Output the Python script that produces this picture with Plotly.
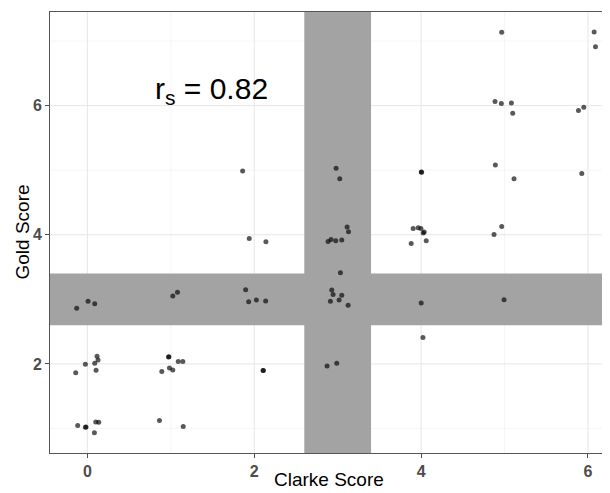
import plotly.graph_objects as go

# Jittered Clarke (x) and Gold (y) scores
clarke = [-0.128, 0.008, 0.088,
          0.116, 0.128, 0.088, -0.024, -0.14, 0.104,
          -0.116, -0.024, -0.016, 0.10, 0.136, 0.084,
          1.024, 1.08,
          0.972, 0.978, 1.089, 1.144, 0.892, 0.984, 1.024,
          0.864, 1.149,
          1.897, 1.933, 2.025, 2.137,
          2.105, 2.110,
          1.861, 1.94, 2.14,
          2.981, 3.025, 3.113, 3.13, 2.885, 2.921, 2.977, 3.049,
          3.033, 2.929, 2.945, 3.049, 2.913, 3.017, 3.125,
          2.873, 2.989,
          4.006, 4.002, 3.905, 3.965, 3.998, 4.037, 4.025, 4.061, 3.881,
          4.001, 4.022,
          4.966, 4.886, 4.962, 5.082, 5.098, 4.89, 5.114, 4.966, 4.874, 4.994,
          6.074, 6.09, 5.886, 5.95, 5.926]
gold = [2.86, 2.97, 2.93,
        2.118, 2.062, 2.009, 1.994, 1.861, 1.901,
        1.045, 1.019, 1.022, 1.102, 1.096, 0.932,
        3.053, 3.108,
        2.108, 2.111, 2.036, 2.036, 1.881, 1.938, 1.907,
        1.122, 1.029,
        3.150, 2.964, 2.991, 2.975,
        1.896, 1.899,
        4.989, 3.943, 3.89,
        5.03, 4.866, 4.119, 4.046, 3.896, 3.927, 3.907, 3.918,
        3.413, 3.146, 3.073, 3.062, 2.969, 2.991, 2.907,
        1.969, 2.009,
        4.968, 4.972, 4.098, 4.108, 4.098, 4.042, 4.026, 3.907, 3.865,
        2.944, 2.407,
        7.135, 6.062, 6.031, 6.042, 5.881, 5.082, 4.866, 4.129, 4.005, 2.995,
        7.141, 6.913, 5.923, 5.974, 4.947]

x_ticks = [0, 2, 4, 6]
y_ticks = [2, 4, 6]
x_minor = [1, 3, 5]
y_minor = [1, 3, 5, 7]
band_lo, band_hi = 2.6, 3.4
rs_label = "r<sub>s</sub> = 0.82"
x_title = "Clarke Score"
y_title = "Gold Score"

FONT = "Liberation Sans, Arial, sans-serif"

fig = go.Figure()
fig.add_trace(go.Scatter(
    x=clarke, y=gold, mode="markers",
    marker=dict(size=5, color="black", opacity=0.65, line=dict(width=0)),
    hoverinfo="skip", showlegend=False))

# grid lines (drawn as shapes so the bands can cover them)
for v in x_minor:
    fig.add_shape(type="line", xref="x", yref="paper", x0=v, x1=v, y0=0, y1=1,
                  line=dict(color="#f2f2f2", width=0.7), layer="below")
for v in y_minor:
    fig.add_shape(type="line", xref="paper", yref="y", x0=0, x1=1, y0=v, y1=v,
                  line=dict(color="#f2f2f2", width=0.7), layer="below")
for v in x_ticks:
    fig.add_shape(type="line", xref="x", yref="paper", x0=v, x1=v, y0=0, y1=1,
                  line=dict(color="#e6e6e6", width=1), layer="below")
for v in y_ticks:
    fig.add_shape(type="line", xref="paper", yref="y", x0=0, x1=1, y0=v, y1=v,
                  line=dict(color="#e6e6e6", width=1), layer="below")

band_color = "#a3a3a3"
fig.add_shape(type="rect", xref="paper", yref="y", x0=0, x1=1, y0=band_lo, y1=band_hi,
              fillcolor=band_color, line=dict(width=0), layer="below")
fig.add_shape(type="rect", xref="x", yref="paper", x0=band_lo, x1=band_hi, y0=0, y1=1,
              fillcolor=band_color, line=dict(width=0), layer="below")

fig.add_annotation(x=1.49, y=6.23, xref="x", yref="y", text=rs_label, showarrow=False,
                   font=dict(size=30, color="black", family=FONT),
                   xanchor="center", yanchor="middle")

fig.add_annotation(x=0.5, y=0, xref="paper", yref="paper", yshift=-26, text=x_title,
                   showarrow=False, xanchor="center", yanchor="middle",
                   font=dict(size=19, color="black", family=FONT))
fig.add_annotation(x=0, y=0.5, xref="paper", yref="paper", xshift=-28, text=y_title,
                   showarrow=False, xanchor="center", yanchor="middle", textangle=-90,
                   font=dict(size=19, color="black", family=FONT))

axis_common = dict(
    showgrid=False, zeroline=False, automargin=False,
    showline=True, mirror=True, linecolor="#555555", linewidth=1,
    ticks="outside", ticklen=4, tickcolor="#4d4d4d", tickwidth=1,
    tickfont=dict(size=16, color="#4d4d4d", family=FONT, weight="bold"),
)

fig.update_xaxes(range=[-0.448, 6.24], tickvals=x_ticks, **axis_common)
fig.update_yaxes(range=[0.62, 7.45], tickvals=y_ticks, **axis_common)

# the page body adds an 8px offset at top/left, so the figure is 8px smaller than the window
fig.update_layout(
    width=602, height=485,
    margin=dict(l=42, r=2, t=4, b=40, autoexpand=False),
    plot_bgcolor="white", paper_bgcolor="white",
    font=dict(family=FONT),
)
fig.write_html("out.html")
